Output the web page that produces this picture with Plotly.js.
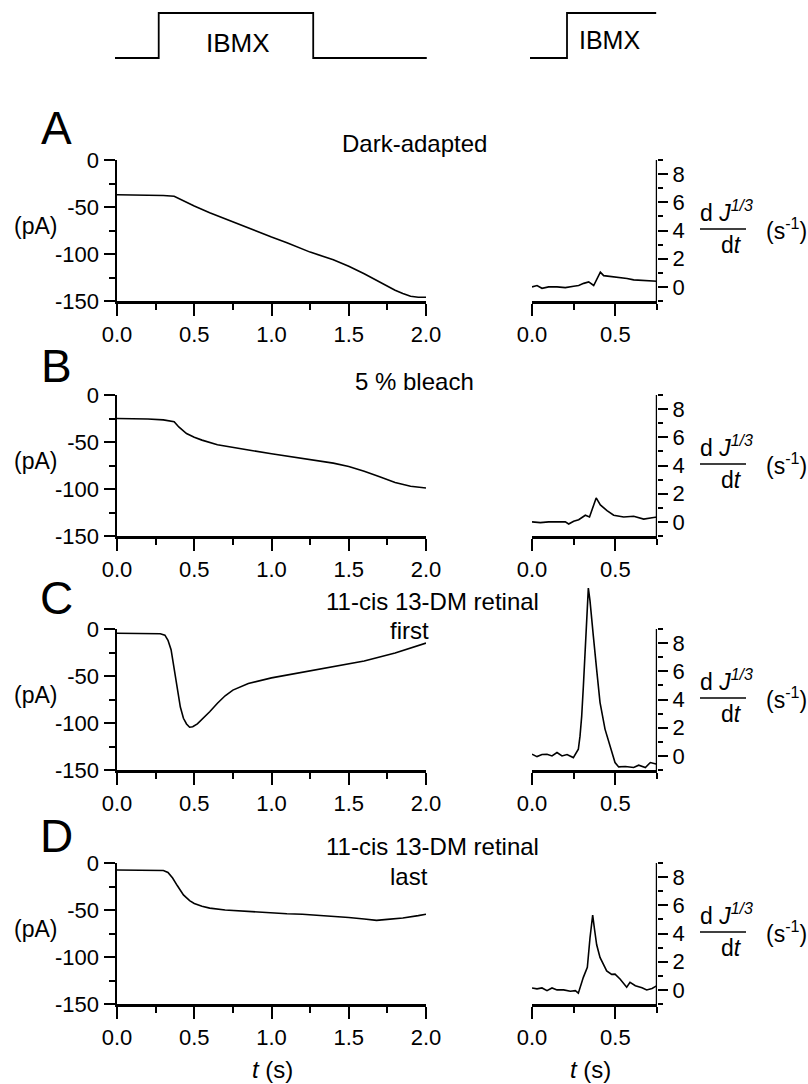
<!DOCTYPE html>
<html>
<head>
<meta charset="utf-8">
<script src="https://cdn.plot.ly/plotly-3.0.1.min.js"></script>
<style>html,body{margin:0;padding:0;background:#fff;}#chart{width:808px;height:1084px;}</style>
</head>
<body>
<div id="chart"></div>
<script>
// ---------------- data ----------------
const panelLetters = ['A', 'B', 'C', 'D'];
const panelTitles1 = ['Dark-adapted', '5 % bleach', '11-cis 13-DM retinal', '11-cis 13-DM retinal'];
const panelTitles2 = ['', '', 'first', 'last'];

// current traces (pA) vs time (s)
const tA = [0, 0.1, 0.2, 0.3, 0.37, 0.4, 0.45, 0.5, 0.6, 0.75, 0.9, 1.0, 1.1, 1.25, 1.4, 1.5, 1.6, 1.7, 1.8, 1.85, 1.9, 1.95, 2.0];
const iA = [-37, -37, -37.2, -37.8, -38.5, -41, -45, -49, -56, -66, -75.5, -82, -88, -98, -106, -113, -121, -130, -138.5, -142, -145, -146, -146];

const tB = [0, 0.1, 0.2, 0.3, 0.37, 0.4, 0.45, 0.5, 0.55, 0.65, 0.75, 0.87, 1.0, 1.1, 1.2, 1.3, 1.4, 1.5, 1.6, 1.7, 1.8, 1.9, 2.0];
const iB = [-25, -25, -25.5, -26.5, -28.5, -34, -41, -45, -48, -53, -56, -59, -62.5, -65, -67, -69.5, -72.5, -76, -81, -87, -93, -97, -99];

const tC = [0, 0.1, 0.2, 0.28, 0.31, 0.33, 0.35, 0.37, 0.39, 0.41, 0.43, 0.45, 0.47, 0.49, 0.52, 0.56, 0.6, 0.65, 0.7, 0.75, 0.85, 1.0, 1.2, 1.4, 1.6, 1.8, 2.0];
const iC = [-4.5, -4.5, -4.6, -5, -6.5, -12, -22, -42, -64, -83, -95, -101, -104.5, -104, -101, -95, -88, -79, -71, -65, -58, -52, -46, -40, -34, -25.5, -15];

const tD = [0, 0.1, 0.2, 0.3, 0.33, 0.36, 0.39, 0.43, 0.47, 0.5, 0.55, 0.6, 0.7, 0.8, 0.9, 1.0, 1.1, 1.2, 1.3, 1.4, 1.5, 1.6, 1.68, 1.75, 1.85, 1.95, 2.0];
const iD = [-7.5, -7.5, -7.8, -8, -10, -16, -24, -34, -40, -43, -46, -48, -50, -51, -52.5, -53, -54, -54.5, -55.5, -56.5, -58, -59.5, -61, -60, -58.5, -56, -54.5];

// derivative traces d J^(1/3) / dt (s^-1) vs time (s)
const tRA = [0, 0.03, 0.06, 0.1, 0.15, 0.2, 0.25, 0.28, 0.31, 0.34, 0.37, 0.39, 0.41, 0.43, 0.47, 0.51, 0.57, 0.61, 0.66, 0.7, 0.75];
const dRA = [0, 0.1, -0.1, 0, 0, -0.05, 0.05, 0.1, 0.25, 0.35, 0.1, 0.6, 1.05, 0.8, 0.75, 0.7, 0.6, 0.5, 0.47, 0.45, 0.4];

const tRB = [0, 0.05, 0.1, 0.15, 0.2, 0.22, 0.25, 0.28, 0.32, 0.345, 0.36, 0.385, 0.41, 0.45, 0.49, 0.55, 0.61, 0.67, 0.72, 0.75];
const dRB = [0, -0.05, 0, 0, 0, -0.15, 0.05, 0.15, 0.47, 0.35, 0.85, 1.7, 1.2, 0.8, 0.47, 0.35, 0.4, 0.2, 0.3, 0.35];

const tRC = [0, 0.03, 0.06, 0.09, 0.12, 0.15, 0.18, 0.21, 0.248, 0.278, 0.288, 0.298, 0.308, 0.318, 0.328, 0.338, 0.348, 0.358, 0.368, 0.388, 0.408, 0.438, 0.468, 0.498, 0.52, 0.56, 0.61, 0.64, 0.68, 0.71, 0.75];
const dRC = [0.12, -0.05, 0.1, 0.12, 0, 0.24, 0, 0.1, -0.12, 0.47, 1.4, 2.8, 4.9, 7.1, 9.6, 11.9, 11.0, 9.6, 8.5, 6.1, 3.8, 1.9, 0.7, -0.47, -0.78, -0.75, -0.82, -0.66, -0.82, -0.47, -0.59];

const tRD = [0, 0.03, 0.06, 0.09, 0.12, 0.15, 0.19, 0.23, 0.26, 0.278, 0.308, 0.332, 0.348, 0.364, 0.375, 0.388, 0.408, 0.448, 0.478, 0.498, 0.528, 0.568, 0.588, 0.62, 0.66, 0.688, 0.72, 0.75];
const dRD = [0.14, 0.07, 0.14, -0.05, 0.14, 0.0, 0.0, -0.1, -0.05, -0.23, 0.89, 1.6, 3.7, 5.3, 4.3, 3.2, 2.3, 1.35, 1.1, 1.12, 0.77, 0.19, 0.54, 0.3, 0.15, 0.0, 0.1, 0.3];

// IBMX stimulus timing (0 = off, 1 = on)
const stimLT = [-0.013, 0.27, 0.27, 1.27, 1.27, 2.005];
const stimLV = [0, 0, 1, 1, 0, 0];
const stimRT = [-0.012, 0.21, 0.21, 0.745];
const stimRV = [0, 0, 1, 1];
const stimLabel = 'IBMX';

// tick labels
const leftYTicks = [-150, -100, -50, 0];
const leftYText = ['-150', '-100', '-50', '0'];
const leftYMinor = [-125, -75, -25];
const leftXTicks = [0, 0.5, 1.0, 1.5, 2.0];
const leftXText = ['0.0', '0.5', '1.0', '1.5', '2.0'];
const leftXMinor = [0.25, 0.75, 1.25, 1.75];
const rightYTicks = [0, 2, 4, 6, 8];
const rightYText = ['0', '2', '4', '6', '8'];
const rightYMinor = [-1, 1, 3, 5, 7, 9];
const rightXTicks = [0, 0.5];
const rightXText = ['0.0', '0.5'];
const rightXMinor = [0.25, 0.75];

// ---------------- geometry ----------------
const W = 808, H = 1084;
const FONT = 'Liberation Sans, Arial, Helvetica, sans-serif';
const LX0 = 117, LPPU = 154.5;   // left time axis: px at t=0, px per second
const RX0 = 532, RPPU = 166.7;   // right time axis
const panelTop = [160, 395, 629, 863];
const panelH = 141;
const rUnit = panelH / 10;       // right axis: -1..9 spans the panel height
const rTopVal = 12.5;
const letterDy = [-32, -29, -31, -27];
const title1Dy = [-16, -14, -28, -17];
const title2Dy = [0, 0, 1, 13];

const px = v => v / W;
const py = v => 1 - v / H;
const ital = (s, size) => '<span style="font-style:italic;font-size:' + size + 'px">' + s + '</span>';

const leftT = [tA, tB, tC, tD], leftI = [iA, iB, iC, iD];
const rightT = [tRA, tRB, tRC, tRD], rightD = [dRA, dRB, dRC, dRD];

const data = [];
const layout = {
  width: W, height: H,
  margin: {l: 0, r: 0, t: 0, b: 0},
  paper_bgcolor: '#fff', plot_bgcolor: 'rgba(0,0,0,0)',
  showlegend: false,
  font: {family: FONT, size: 22, color: '#000'},
  annotations: [], shapes: []
};

const axisCommon = {
  showgrid: false, zeroline: false, ticks: 'outside', tickcolor: '#000',
  tickwidth: 2, linecolor: '#000', linewidth: 2.5, fixedrange: true,
  tickfont: {family: FONT, size: 22, color: '#000'}
};
const minorTicks = (vals, len) => ({tickmode: 'array', tickvals: vals, ticklen: len, tickwidth: 2, ticks: 'outside', tickcolor: '#000'});
const txt = (text, x, y, size, xa, ya) => ({
  text: text, xref: 'paper', yref: 'paper', x: px(x), y: py(y), showarrow: false,
  xanchor: xa || 'center', yanchor: ya || 'middle', font: {family: FONT, size: size, color: '#000'}
});

for (let k = 0; k < 4; k++) {
  const nL = 2 * k + 1, nR = 2 * k + 2;
  const top = panelTop[k], bot = top + panelH;
  const xl = 'x' + nL, yl = 'y' + nL, xr = 'x' + nR, yr = 'y' + nR;

  data.push({x: leftT[k], y: leftI[k], xaxis: xl, yaxis: yl, type: 'scatter', mode: 'lines',
             line: {color: '#000', width: 1.6}, hoverinfo: 'skip'});
  data.push({x: rightT[k], y: rightD[k], xaxis: xr, yaxis: yr, type: 'scatter', mode: 'lines',
             line: {color: '#000', width: 1.6}, hoverinfo: 'skip'});

  layout['xaxis' + (nL === 1 ? '' : nL)] = Object.assign({}, axisCommon, {
    domain: [px(LX0), px(LX0 + 2 * LPPU)], range: [0, 2], anchor: yl,
    showline: true, tickmode: 'array', tickvals: leftXTicks, ticktext: leftXText, ticklen: 12,
    minor: minorTicks(leftXMinor, 6)
  });
  layout['yaxis' + nL] = Object.assign({}, axisCommon, {
    domain: [py(bot), py(top)], range: [-150, 0], anchor: xl,
    showline: true, tickmode: 'array', tickvals: leftYTicks, ticktext: leftYText, ticklen: 11,
    minor: minorTicks(leftYMinor, 6)
  });
  layout['xaxis' + nR] = Object.assign({}, axisCommon, {
    domain: [px(RX0), px(RX0 + 0.75 * RPPU)], range: [0, 0.75], anchor: yr,
    showline: true, tickmode: 'array', tickvals: rightXTicks, ticktext: rightXText, ticklen: 12,
    minor: minorTicks(rightXMinor, 6)
  });
  layout['yaxis' + nR] = Object.assign({}, axisCommon, {
    domain: [py(bot), py(bot - (rTopVal + 1) * rUnit)], range: [-1, rTopVal], anchor: xr, side: 'right',
    showline: false, tickmode: 'array', tickvals: rightYTicks, ticktext: rightYText, ticklen: 10,
    minor: minorTicks(rightYMinor, 5)
  });
  // right y-axis line only from -1 to 9
  layout.shapes.push({type: 'line', xref: xr, yref: yr, x0: 0.75, x1: 0.75, y0: -1, y1: 9,
                      line: {color: '#000', width: 2.5}});

  // panel letter
  layout.annotations.push(txt(panelLetters[k], 56, top + letterDy[k], 46));
  // titles
  if (panelTitles2[k]) {
    layout.annotations.push(txt(panelTitles1[k], 432, top + title1Dy[k], 24));
    layout.annotations.push(txt(panelTitles2[k], 409, top + title2Dy[k], 24));
  } else {
    layout.annotations.push(txt(panelTitles1[k], 414, top + title1Dy[k], 24));
  }
  // (pA)
  layout.annotations.push(txt('(pA)', 35, top + 66, 23));
  // fraction label
  const barY = top + 69;
  layout.annotations.push(txt('d ' + ital('J', 23) + '<sup>' + ital('1/3', 16) + '</sup>', 726, barY - 1, 23, 'center', 'bottom'));
  layout.annotations.push(txt('d' + ital('t', 23), 731, barY + 1, 23, 'center', 'top'));
  layout.annotations.push(txt('(s<sup>-1</sup>)', 786, barY, 23));
  layout.shapes.push({type: 'line', xref: 'paper', yref: 'paper', x0: px(700), x1: px(746), y0: py(barY), y1: py(barY),
                      line: {color: '#000', width: 1.6}});
}

// stimulus traces
const sTop = 13, sBot = 58;
data.push({x: stimLT, y: stimLV, xaxis: 'x9', yaxis: 'y9', type: 'scatter', mode: 'lines',
           line: {color: '#000', width: 1.8}, hoverinfo: 'skip'});
data.push({x: stimRT, y: stimRV, xaxis: 'x10', yaxis: 'y10', type: 'scatter', mode: 'lines',
           line: {color: '#000', width: 1.8}, hoverinfo: 'skip'});
const hidden = {visible: false, fixedrange: true};
const pad = 2 / (sBot - sTop);
layout.xaxis9 = Object.assign({}, hidden, {domain: [px(LX0 - 0.05 * LPPU), px(LX0 + 2.05 * LPPU)], range: [-0.05, 2.05], anchor: 'y9'});
layout.yaxis9 = Object.assign({}, hidden, {domain: [py(sBot + 2), py(sTop - 2)], range: [-pad, 1 + pad], anchor: 'x9'});
layout.xaxis10 = Object.assign({}, hidden, {domain: [px(RX0 - 0.05 * RPPU), px(RX0 + 0.8 * RPPU)], range: [-0.05, 0.8], anchor: 'y10'});
layout.yaxis10 = Object.assign({}, hidden, {domain: [py(sBot + 2), py(sTop - 2)], range: [-pad, 1 + pad], anchor: 'x10'});
layout.annotations.push({text: stimLabel, xref: 'x9', yref: 'y9', x: 0.78, y: 0.33, showarrow: false,
  xanchor: 'center', yanchor: 'middle', font: {family: FONT, size: 26, color: '#000'}});
layout.annotations.push({text: stimLabel, xref: 'x10', yref: 'y10', x: 0.465, y: 0.4, showarrow: false,
  xanchor: 'center', yanchor: 'middle', font: {family: FONT, size: 25, color: '#000'}});

// bottom axis titles
layout.annotations.push(txt(ital('t', 24) + ' (s)', 272, 1069, 24));
layout.annotations.push(txt(ital('t', 24) + ' (s)', 590, 1069, 24));

Plotly.newPlot('chart', data, layout, {staticPlot: true, displayModeBar: false}).then(gd => {
  // remove the empty placeholder axis-title text nodes Plotly leaves behind
  gd.querySelectorAll('text').forEach(t => { if (!t.textContent.trim()) t.remove(); });
});
</script>
</body>
</html>
